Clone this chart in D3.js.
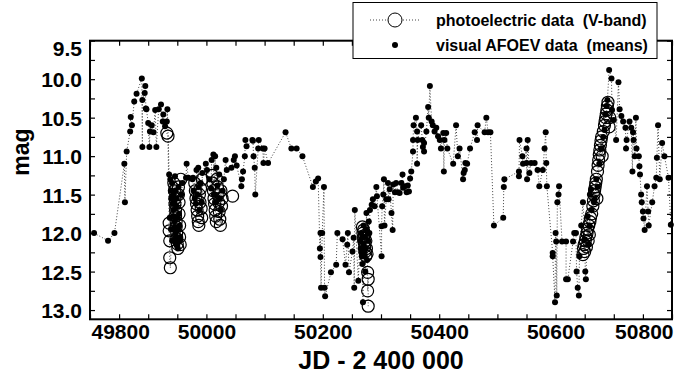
<!DOCTYPE html>
<html><head><meta charset="utf-8">
<script src="https://cdn.jsdelivr.net/npm/d3@7"></script>
<style>
html,body{margin:0;padding:0;background:#fff;}
text{font-family:"Liberation Sans",Arial,Helvetica,sans-serif;font-weight:bold;fill:#000;}
</style></head>
<body><svg id="c" width="676" height="376"></svg>
<script>
// ---------- data ----------
const xTickLabels = [49800, 50000, 50200, 50400, 50600, 50800];
const yTickLabels = [9.5, 10.0, 10.5, 11.0, 11.5, 12.0, 12.5, 13.0];
const legendLabels = ["photoelectric data  (V-band)", "visual AFOEV data  (means)"];
const xTitle = "JD - 2 400 000";
const yTitle = "mag";

// visual AFOEV means: [JD-2400000, mag]
const visual = [
[49807,12.0],[49831,12.1],[49842,12.0],[49859,11.1],[49860,11.6],[49863,10.94],[49869,10.68],[49870,10.49],[49872,10.6],[49876,10.29],[49880,10.19],[49889,9.99],[49890,10.88],[49890,10.27],[49894,10.18],[49895,10.09],[49896,10.38],[49897,10.39],[49900,10.57],[49902,10.88],[49903,10.68],[49906,10.6],[49909,10.69],[49912,10.4],[49914,10.88],[49918,10.39],[49922,10.33],[49925,10.55],[49926,10.46],[49929,10.61],[49932,10.55],[49933,10.39],
[49936,11.24],[49937,11.8],[49938,11.3],[49939,11.45],[49939,11.95],[49940,11.55],[49941,11.35],[49941,12.1],[49942,11.62],[49943,11.7],[49943,11.95],[49944,11.5],[49944,11.78],[49945,11.85],[49945,11.6],[49946,11.26],[49946,11.92],[49947,12.0],[49947,11.45],[49948,12.05],[49948,11.65],[49949,12.1],[49949,11.55],[49950,12.15],[49950,11.8],[49951,12.2],[49951,11.95],[49952,11.4],[49953,11.75],[49953,12.1],[49954,11.9],[49955,12.05],[49957,11.5],[49959,11.35],
[49965,11.28],[49966,11.1],[49969,11.28],[49976,11.3],[49977,11.28],[49978,11.45],[49980,11.55],[49982,11.62],[49983,11.18],[49984,11.5],[49986,11.15],[49987,11.4],[49988,11.7],[49990,11.35],[49992,11.6],[49993,11.22],[49999,11.1],[50001,11.18],[50005,11.3],[50008,11.42],[50009,11.05],[50012,10.98],[50013,11.5],[50015,11.0],[50016,11.6],[50017,11.15],[50019,11.38],[50022,11.24],[50023,11.55],[50025,11.7],[50028,11.45],[50030,11.3],[50033,11.05],[50035,11.18],[50043,11.15],[50047,11.05],[50049,11.0],[50052,11.12],[50060,11.39],[50061,11.3],[50063,11.2],[50066,11.0],[50067,10.79],[50069,10.87],[50079,10.79],[50080,10.8],[50081,11.0],[50083,11.15],[50084,11.5],[50089,10.9],[50090,10.79],[50097,10.9],[50098,11.09],[50100,10.9],[50106,11.09],[50136,10.69],[50146,10.9],[50155,10.9],[50165,11.0],[50183,11.4],[50188,11.33],[50192,11.29],[50195,12.2],[50196,12.0],[50196,12.31],[50197,12.71],[50199,12.0],[50202,11.4],[50203,12.71],[50204,12.82],[50214,12.51],[50223,12.41],[50225,12.0],[50234,12.08],[50239,12.41],[50242,12.15],[50243,12.0],[50245,12.51],[50251,12.24],[50253,12.06],[50254,12.71],[50255,11.7],[50261,12.62],
[50264,12.1],[50265,12.2],[50266,12.0],[50266,12.25],[50267,12.3],[50268,12.4],[50268,12.05],[50269,12.9],[50270,12.15],[50270,11.9],[50271,12.25],[50272,12.05],[50272,12.3],[50273,12.5],[50274,11.95],[50274,12.2],[50275,11.74],[50276,12.35],[50277,12.0],[50278,12.1],[50279,11.85],[50280,12.0],[50281,11.7],[50284,11.63],[50286,11.56],[50289,11.65],[50292,11.4],[50293,11.52],
[50301,12.3],[50301,11.91],[50302,11.65],[50304,11.5],[50305,11.3],[50306,11.9],[50309,11.56],[50312,11.35],[50313,11.56],[50315,11.43],[50318,11.74],[50320,11.96],[50321,11.37],[50324,11.47],[50326,11.35],[50329,11.47],[50332,11.48],[50335,11.35],[50337,11.24],[50338,11.41],[50341,11.39],[50344,11.47],[50346,11.38],[50348,11.46],[50350,11.29],[50352,11.2],[50355,10.94],[50355,10.79],[50356,10.6],[50360,10.5],[50362,10.68],[50362,11.1],[50363,10.79],[50369,10.6],[50371,10.79],[50372,10.88],[50374,10.83],[50374,10.94],[50378,10.68],[50381,10.36],[50382,10.5],[50384,10.09],[50387,10.55],[50389,10.6],[50392,10.68],[50395,10.63],[50398,10.74],[50401,10.79],[50403,10.9],[50407,10.7],[50408,11.2],[50409,10.79],[50412,10.7],[50414,10.9],[50424,11.1],[50429,10.6],[50432,11.0],[50435,10.9],[50441,11.3],[50442,11.22],[50444,11.18],[50445,11.09],[50448,11.1],[50453,10.9],[50461,10.69],[50465,10.79],[50466,10.6],[50478,10.69],[50481,10.5],[50484,10.69],[50488,10.69],[50494,11.9],[50510,11.8],[50511,11.4],[50512,11.3],
[50537,11.2],[50537,11.26],[50538,10.79],[50543,11.0],[50544,11.1],[50550,10.9],[50550,11.09],[50551,11.3],[50552,10.79],[50555,11.22],[50558,11.09],[50564,11.09],[50569,11.18],[50572,11.39],[50578,11.18],[50581,10.9],[50583,10.69],[50584,11.09],[50585,11.39],[50595,12.26],[50595,12.3],[50599,12.9],[50600,12.0],[50601,12.11],[50602,12.81],[50603,11.6],[50605,11.5],[50606,11.39],[50611,12.11],[50618,12.11],[50618,12.6],[50621,12.6],[50630,12.11],[50632,12.0],[50635,12.0],[50636,12.5],[50638,12.71],[50640,12.81],[50641,12.3],[50644,11.9],[50647,11.6],[50650,12.08],[50651,12.5],[50652,12.6],[50655,11.78],[50656,12.15],[50658,11.9],[50659,11.5],[50661,11.43],[50662,11.7],[50666,11.6],[50667,11.56],[50670,11.3],[50672,11.4],[50675,11.1],[50678,10.9],[50679,10.9],[50682,10.75],[50684,10.66],[50686,10.46],[50688,10.35],[50689,10.27],[50692,9.88],[50696,9.99],[50697,10.4],[50700,10.53],[50704,10.79],[50708,10.04],[50710,10.39],[50713,10.48],[50716,10.55],[50720,10.63],[50721,10.9],[50722,10.79],[50727,10.55],[50730,10.63],[50732,11.2],[50733,10.69],[50734,10.79],[50736,11.0],[50738,10.5],[50739,10.9],[50743,11.0],[50744,11.13],[50745,11.24],[50747,11.5],[50748,11.6],[50750,11.72],[50751,11.81],[50753,11.96],[50757,11.39],[50759,11.72],[50760,11.9],[50766,11.6],[50770,11.39],[50773,11.28],[50774,11.02],[50776,10.6],[50779,11.3],[50783,10.83],[50787,11.0],[50794,11.28],[50798,11.89]
];

// photoelectric V-band: [JD-2400000, mag]
const photo = [
[49932,10.70],[49934,10.74],
[49936,11.87],[49936,11.97],[49937,12.1],[49937,12.32],[49938,12.45],
[49944,11.35],[49945,11.45],[49946,11.55],[49946,11.62],[49947,11.7],[49947,11.78],[49948,11.85],[49948,11.92],[49949,12.0],[49949,12.07],[49950,12.14],[49951,12.2],[49952,11.4],[49952,11.5],[49953,11.6],[49953,11.75],[49954,11.9],[49954,12.05],[49955,12.15],[49956,11.3],
[49980,11.35],[49981,11.45],[49982,11.55],[49983,11.62],[49984,11.7],[49985,11.78],[49986,11.85],[49987,11.9],[49988,11.5],[49989,11.6],[49990,11.42],[49991,11.68],[49992,11.8],[49993,11.3],
[50010,11.25],[50011,11.35],[50012,11.45],[50013,11.55],[50014,11.62],[50015,11.7],[50016,11.78],[50017,11.85],[50018,11.3],[50019,11.4],[50020,11.5],[50021,11.6],[50022,11.72],[50023,11.82],[50024,11.9],[50025,11.45],[50026,11.65],[50027,11.55],
[50045,11.52],
[50268,11.92],[50269,12.0],[50270,12.06],[50270,11.96],[50271,12.12],[50272,12.18],[50272,12.03],[50273,12.24],[50274,12.3],[50274,12.1],[50275,12.2],[50276,12.27],[50277,12.51],[50278,12.6],[50277,12.75],[50278,12.95],
[50647,12.28],[50648,12.2],[50649,12.15],[50650,12.24],[50651,12.1],[50652,12.05],[50653,12.18],[50654,12.0],[50655,11.95],[50656,12.1],[50657,11.9],[50658,12.02],[50659,11.85],[50660,11.8],[50662,11.75],[50664,11.65],[50665,11.58],[50666,11.5],[50667,11.45],[50668,11.4],[50669,11.35],[50670,11.3],[50671,11.55],[50672,11.2],[50673,11.12],[50674,11.05],[50675,10.98],[50676,10.92],[50677,10.86],[50678,10.8],[50679,10.75],[50680,11.0],[50682,10.68],[50684,10.6],[50685,10.55],[50686,10.5],[50687,10.45],[50688,10.4],[50689,10.35],[50690,10.3],[50692,10.62],[50693,10.5]
];

// ---------- chart ----------
const W = 676, H = 376;
const m = {left: 90, right: 4, top: 40.7, bottom: 56.7};
const svg = d3.select("#c");
svg.append("rect").attr("width", W).attr("height", H).attr("fill", "#fff");

const x = d3.scaleLinear().domain([49800, 50800]).range([m.left, W - m.right]);
const y = d3.scaleLinear().domain([9.5, 13.12]).range([m.top, H - m.bottom]);

const xMinor = d3.range(49800, 50801, 50);
const yMinor = d3.range(9.5, 13.11, 0.25).map(v => +v.toFixed(2));

const isXLab = v => xTickLabels.includes(v);
const isYLab = v => yTickLabels.some(t => Math.abs(t - v) < 1e-6);

const sorted = arr => arr.slice().sort((a, b) => a[0] - b[0]);
const vis = sorted(visual), pho = sorted(photo);

// split photoelectric series into observing runs (gaps > 15 d are not joined)
const phoRuns = [];
pho.forEach((d, i) => {
  if (i === 0 || d[0] - pho[i - 1][0] > 15) phoRuns.push([]);
  phoRuns[phoRuns.length - 1].push(d);
});

const plot = svg.append("g");
const line = d3.line().x(d => x(d[0])).y(d => y(d[1]));

plot.append("path").datum(vis).attr("d", line)
  .attr("fill", "none").attr("stroke", "#444").attr("stroke-width", 1)
  .attr("stroke-dasharray", "1,2");
plot.selectAll("path.pr").data(phoRuns).join("path").attr("class", "pr").attr("d", line)
  .attr("fill", "none").attr("stroke", "#444").attr("stroke-width", 1)
  .attr("stroke-dasharray", "1,2");

plot.selectAll("circle.ph").data(pho).join("circle").attr("class", "ph")
  .attr("cx", d => x(d[0])).attr("cy", d => y(d[1])).attr("r", 6)
  .attr("fill", "none").attr("stroke", "#000").attr("stroke-width", 1.2);

plot.selectAll("circle.vi").data(vis).join("circle").attr("class", "vi")
  .attr("cx", d => x(d[0])).attr("cy", d => y(d[1])).attr("r", 3)
  .attr("fill", "#000");

// axes
const fs = 21;
const gx = svg.append("g").attr("transform", `translate(0,${H - m.bottom})`)
  .call(d3.axisBottom(x).tickValues(xMinor).tickSize(-5).tickPadding(5)
    .tickFormat(v => isXLab(v) ? String(v) : ""));
gx.selectAll("text").style("font-size", fs + "px")
  .attr("text-anchor", d => d === xTickLabels[0] ? "start" : (d === xTickLabels[xTickLabels.length - 1] ? "end" : "middle"))
  .attr("dx", d => d === xTickLabels[0] ? "1" : (d === xTickLabels[xTickLabels.length - 1] ? "1" : "0"));

const gy = svg.append("g").attr("transform", `translate(${m.left},0)`)
  .call(d3.axisLeft(y).tickValues(yMinor).tickSize(-5).tickPadding(8)
    .tickFormat(v => isYLab(v) ? d3.format(".1f")(v) : ""));
gy.selectAll("text").style("font-size", fs + "px")
  .attr("dy", d => Math.abs(d - yTickLabels[0]) < 1e-6 ? "0.72em" : "0.36em");

svg.append("g").attr("transform", `translate(0,${m.top})`)
  .call(d3.axisTop(x).tickValues(xMinor).tickSize(-5).tickFormat(""));
svg.append("g").attr("transform", `translate(${W - m.right},0)`)
  .call(d3.axisRight(y).tickValues(yMinor).tickSize(-5).tickFormat(""));

svg.selectAll(".domain").remove();
svg.selectAll(".tick line").attr("stroke", "#000").attr("stroke-width", 1.2);

svg.append("rect").attr("x", m.left).attr("y", m.top)
  .attr("width", W - m.right - m.left).attr("height", H - m.bottom - m.top)
  .attr("fill", "none").attr("stroke", "#000").attr("stroke-width", 2);

// titles
svg.append("text").attr("x", (m.left + W - m.right) / 2).attr("y", 369)
  .attr("text-anchor", "middle").style("font-size", "25px").text(xTitle);
svg.append("text").attr("transform", "translate(29,152) rotate(-90)")
  .attr("text-anchor", "middle").style("font-size", "23px").text(yTitle);

// legend
const lg = svg.append("g");
lg.append("rect").attr("x", 353).attr("y", 2.5).attr("width", 304).attr("height", 56)
  .attr("fill", "#fff").attr("stroke", "#000").attr("stroke-width", 1);
lg.append("line").attr("x1", 370).attr("x2", 420).attr("y1", 20).attr("y2", 20)
  .attr("stroke", "#444").attr("stroke-dasharray", "1,2");
lg.append("circle").attr("cx", 395).attr("cy", 20).attr("r", 7)
  .attr("fill", "#fff").attr("stroke", "#000");
lg.append("circle").attr("cx", 395).attr("cy", 45).attr("r", 3).attr("fill", "#000");
lg.selectAll("text.lt").data(legendLabels).join("text").attr("class", "lt")
  .attr("x", 436).attr("y", (d, i) => 26 + i * 25)
  .style("font-size", "16px").attr("xml:space", "preserve").text(d => d);
</script></body></html>
